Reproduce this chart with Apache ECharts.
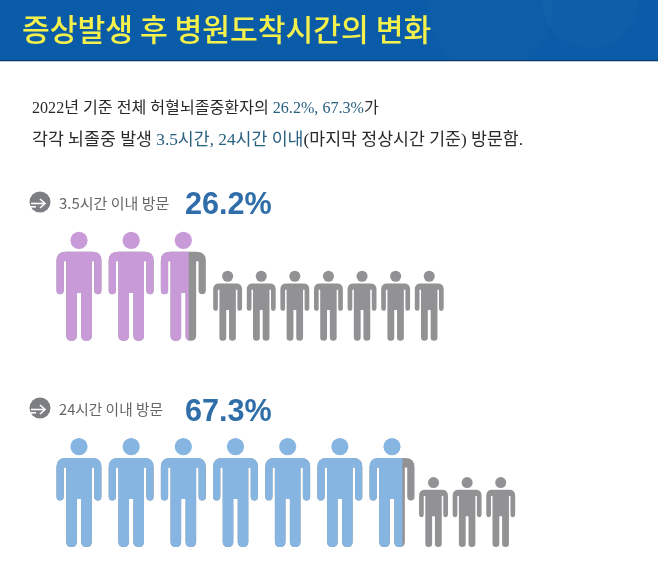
<!DOCTYPE html>
<html><head><meta charset="utf-8">
<style>html,body{margin:0;padding:0;background:#fff}#c{width:658px;height:573px}</style>
<script src="https://cdn.jsdelivr.net/npm/echarts@6/dist/echarts.min.js"></script>
</head><body><div id="c"></div>
<script>
var chartTitle = '증상발생 후 병원도착시간의 변화';
var rowLabels = ['3.5시간 이내 방문', '24시간 이내 방문'];
var sharePercent = [26.2, 67.3];
var peoplePerRow = 10;

var KR = '"Noto Sans CJK KR","Noto Sans",sans-serif';
var SERIF = '"Liberation Serif","Noto Sans CJK KR",serif';
var HEAD = 'M0,0A8.6,8.6 0 1 1 0,17.2A8.6,8.6 0 1 1 0,0Z';
var BODY = 'M-13,20L13,20Q22.5,20 22.5,29L22.5,58.5Q22.5,62.5 19,62.5Q15.2,62.5 15.2,58.5L15.2,29.5L12.8,29.5' +
  'L12.8,104Q12.8,109 7.5,109Q2.2,109 2.2,104L2.2,61L-2.2,61L-2.2,104Q-2.2,109 -7.5,109Q-12.8,109 -12.8,104' +
  'L-12.8,29.5L-15.2,29.5L-15.2,58.5Q-15.2,62.5 -19,62.5Q-22.5,62.5 -22.5,58.5L-22.5,29Q-22.5,20 -13,20Z';
var COLORS = ['#c89ad8', '#85b5e0'];
var GRAY = '#929294';
var gapToSmall = [44.3, 41.5];

function rowData(pct, row) {
  var filled = pct / 100 * peoplePerRow, x = 79, out = [];
  for (var i = 0; i < peoplePerRow; i++) {
    var f = Math.max(0, Math.min(1, filled - i));
    var big = f > 0;
    out.push([x, f, big ? 1 : 0.642]);
    var nextBig = filled - (i + 1) > 0;
    x += nextBig ? 52.17 : (big ? gapToSmall[row] : 33.6);
  }
  return out;
}
function renderPerson(color) {
  return function (params, api) {
    var p = api.coord([api.value(0), 0]);
    var f = api.value(1), s = api.value(2);
    var unit = api.size([0, 1])[1];
    var k = s * unit / 109, topY = p[1] - 109 * k;
    function part(d, fill, clip) {
      var el = { type: 'path', x: p[0], y: topY, scaleX: k, scaleY: k, shape: { pathData: d }, style: { fill: fill } };
      if (clip) el.clipPath = clip;
      return el;
    }
    var children = [part(HEAD, f > 0 ? color : GRAY), part(BODY, GRAY)];
    if (f > 0) children.push(part(BODY, color, { type: 'rect', shape: { x: -23, y: -2, width: 0.5 + 45 * f, height: 113 } }));
    return { type: 'group', children: children };
  };
}
function bullet(cy) {
  return [
    { type: 'circle', shape: { cx: 40, cy: cy, r: 10.5 }, style: { fill: '#7d7d84' } },
    { type: 'rect', shape: { x: 29, y: cy + 4, width: 7, height: 1.6 }, style: { fill: '#fff' } },
    { type: 'polyline', shape: { points: [[31, cy + 1.5], [45, cy + 1.5]] }, style: { fill: 'none', stroke: '#fff', lineWidth: 1.6 } },
    { type: 'polyline', shape: { points: [[40, cy - 3], [45, cy + 1.5], [40, cy + 6]] }, style: { fill: 'none', stroke: '#fff', lineWidth: 1.6 } }
  ];
}
function label(x, y, text, font, size, color, weight) {
  return { type: 'text', x: x, y: y, style: { text: text, fontFamily: font, fontSize: size, fill: color, fontWeight: weight || 'normal', verticalAlign: 'middle' } };
}
var dark = '#2a2a2a', hi = '#2a6080';
function richText(x, y, size, text) {
  return { type: 'text', x: x, y: y, style: { text: text, verticalAlign: 'middle', fontFamily: SERIF, fontSize: size, fill: dark,
    rich: { h: { fill: hi, fontFamily: SERIF, fontSize: size }, n: { fill: dark, fontFamily: SERIF, fontSize: size } } } };
}
var graphics = [
  { type: 'rect', shape: { x: 0, y: 0, width: 658, height: 60 }, style: { fill: '#0a5ba8' } },
  { type: 'circle', shape: { cx: 490, cy: 10, r: 62 }, style: { fill: '#ffffff', opacity: 0.015 } },
  { type: 'circle', shape: { cx: 590, cy: 0, r: 48 }, style: { fill: '#ffffff', opacity: 0.018 } },
  { type: 'circle', shape: { cx: 230, cy: -8, r: 40 }, style: { fill: '#ffffff', opacity: 0.012 } },
  { type: 'rect', shape: { x: 0, y: 60, width: 658, height: 1.2 }, style: { fill: '#073a66' } },
  label(22, 30, chartTitle, KR, 30.2, '#f4f04c', 500),
  richText(32, 109, 16.1, '{n|2022년 기준 전체 허혈뇌졸중환자의 }{h|26.2%, 67.3%}{n|가}'),
  richText(32, 140, 17.3, '{n|각각 뇌졸중 발생 }{h|3.5시간, 24시간 이내}{n|(마지막 정상시간 기준) 방문함.}')
].concat(bullet(202), bullet(408), [
  label(59, 203, rowLabels[0], KR, 15, '#666'),
  label(185, 206, sharePercent[0] + '%', '"Liberation Sans",Arial,sans-serif', 30.6, '#2f6ea8', 'bold'),
  label(59, 409, rowLabels[1], KR, 14.7, '#666'),
  label(185, 413, sharePercent[1] + '%', '"Liberation Sans",Arial,sans-serif', 30.6, '#2f6ea8', 'bold')
]);

var chart = echarts.init(document.getElementById('c'), null, { renderer: 'canvas' });
chart.setOption({
  animation: false,
  backgroundColor: '#fff',
  grid: [
    { left: 0, right: 0, top: 231.7, height: 109 },
    { left: 0, right: 0, top: 438, height: 109 }
  ],
  xAxis: [0, 1].map(function (i) { return { type: 'value', gridIndex: i, min: 0, max: 658, show: false }; }),
  yAxis: [0, 1].map(function (i) { return { type: 'value', gridIndex: i, min: 0, max: 1, show: false }; }),
  series: sharePercent.map(function (pct, i) {
    return {
      type: 'custom', name: rowLabels[i], xAxisIndex: i, yAxisIndex: i,
      renderItem: renderPerson(COLORS[i]),
      encode: { x: 0, y: 1 },
      data: rowData(pct, i),
      silent: true
    };
  }),
  graphic: graphics
});
</script></body></html>
